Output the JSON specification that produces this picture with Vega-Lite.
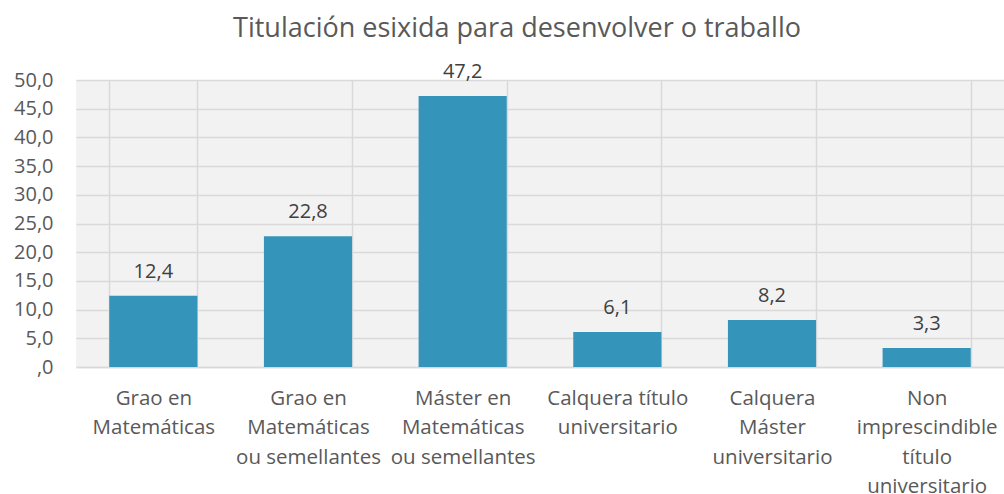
{
  "$schema": "https://vega.github.io/schema/vega-lite/v6.json",
  "autosize": "none",
  "width": 928,
  "height": 287,
  "padding": {"left": 76, "top": 80, "right": 0, "bottom": 127},
  "background": "white",
  "title": {
    "text": "Titulación esixida para desenvolver o traballo",
    "fontSize": 27,
    "font": "Open Sans",
    "fontWeight": "normal",
    "color": "#595959",
    "anchor": "middle",
    "frame": "group",
    "dx": -23,
    "offset": 19
  },
  "config": {
    "view": {"stroke": null, "fill": "#f2f2f2"},
    "font": "Open Sans",
    "locale": {"number": {"decimal": ",", "thousands": ".", "grouping": [3], "currency": ["", " €"]}}
  },
  "data": {
    "values": [
      {"cat": "Grao en|Matemáticas", "v": 12.4},
      {"cat": "Grao en|Matemáticas|ou semellantes", "v": 22.8},
      {"cat": "Máster en|Matemáticas|ou semellantes", "v": 47.2},
      {"cat": "Calquera título|universitario", "v": 6.1},
      {"cat": "Calquera|Máster|universitario", "v": 8.2},
      {"cat": "Non|imprescindible|título|universitario", "v": 3.3}
    ]
  },
  "encoding": {
    "x": {
      "field": "cat",
      "type": "nominal",
      "sort": null,
      "scale": {"paddingInner": 0.43, "paddingOuter": 0.215},
      "axis": {
        "title": null,
        "labelAngle": 0,
        "labelExpr": "isValid(datum.value) ? split(datum.value, '|') : ''",
        "labelFontSize": 20.5,
        "labelColor": "#595959",
        "labelLineHeight": 29.5,
        "labelPadding": 21,
        "labelBaseline": "top",
        "ticks": false,
        "domainColor": "#d9d9d9",
        "domainWidth": 1.5,
        "grid": true,
        "gridColor": "#d9d9d9",
        "gridWidth": 1.5,
        "tickBand": "extent",
        "labelLimit": 0
      }
    },
    "y": {
      "field": "v",
      "type": "quantitative",
      "scale": {"domain": [0, 50]},
      "axis": {
        "title": null,
        "values": [0, 5, 10, 15, 20, 25, 30, 35, 40, 45, 50],
        "labelExpr": "datum.value == 0 ? ',0' : format(datum.value, '.1f')",
        "labelFontSize": 20,
        "labelColor": "#595959",
        "labelPadding": 23,
        "labelOverlap": false,
        "labelFlush": false,
        "ticks": false,
        "domain": false,
        "grid": true,
        "gridColor": "#d9d9d9",
        "gridWidth": 1.5
      }
    }
  },
  "layer": [
    {
      "mark": {"type": "bar", "color": "#3494BA"}
    },
    {
      "mark": {"type": "text", "fontSize": 20, "color": "#404040", "dy": -18, "baseline": "alphabetic"},
      "encoding": {
        "text": {"field": "v", "type": "quantitative", "format": ".1f"}
      }
    }
  ]
}
